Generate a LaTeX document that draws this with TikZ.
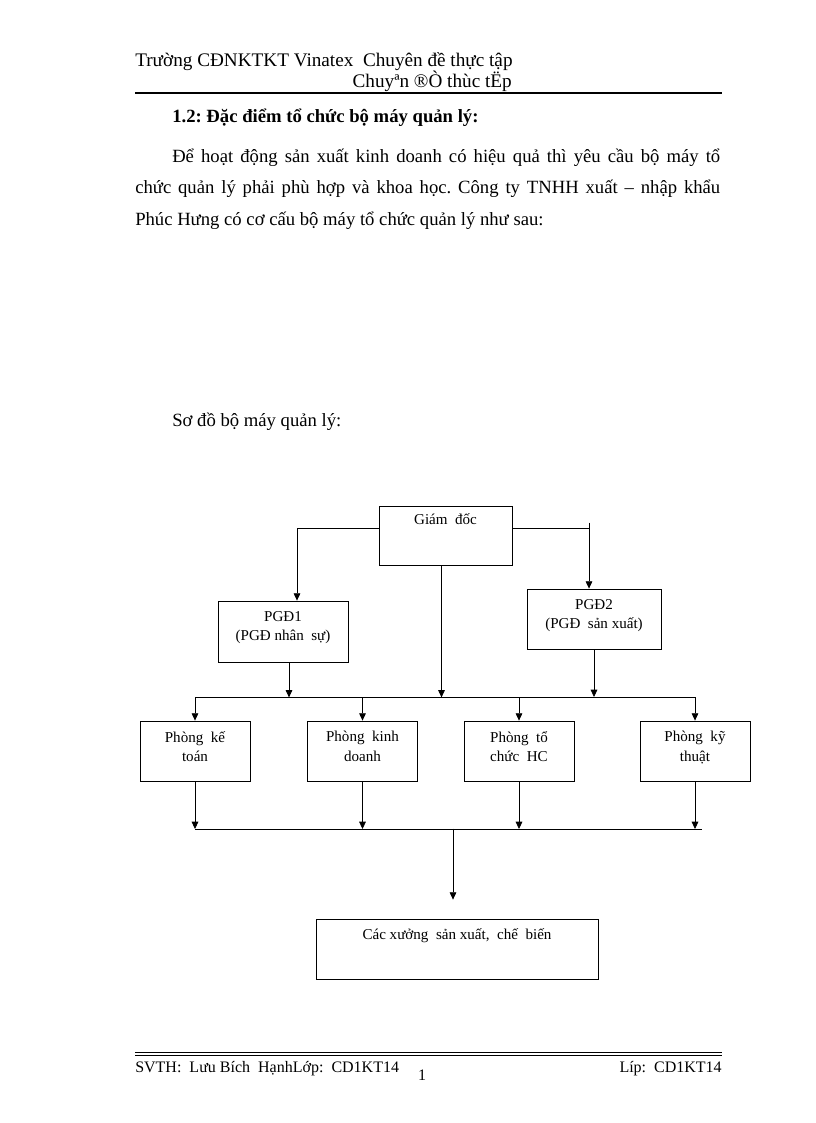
\documentclass[tikz,border=0pt]{standalone}
\usepackage{fontspec}
\setmainfont{Liberation Serif}
\usepackage{tikz}
\usetikzlibrary{arrows.meta,shapes}
\usetikzlibrary{calc}
\frenchspacing
\tikzstyle{box}=[draw,rectangle,inner sep=0pt,line width=0.6pt]
\tikzstyle{deptbox}=[box,minimum width=82.5pt,minimum height=45pt]
\tikzstyle{boxlabel}=[anchor=north,yshift=-2.25pt,inner sep=0pt,align=center,font=\fontsize{11.3}{14.6}\selectfont,execute at begin node={\rule{0pt}{12pt}}]
\tikzstyle{twolabel}=[boxlabel,yshift=-5.6pt]
\tikzstyle{link} = [draw,line width=0.6pt]
\tikzstyle{arrowedge} = [draw,line width=0.6pt,-{Triangle[length=5.5pt,width=5pt]}]
\tikzstyle{pagetext}=[inner sep=0pt,anchor=base west,font=\fontsize{14}{17}\selectfont]
\tikzstyle{foottext}=[inner sep=0pt,anchor=base west,font=\fontsize{12}{14}\selectfont]

\begin{document}
\begin{tikzpicture}[x=0.75pt,y=-0.75pt]
 \useasboundingbox (0,0) rectangle (816,1123);

 % header and page text
 \node[pagetext,font=\fontsize{14.4}{17}\selectfont] (head1) at (135,67) {Trường CĐNKTKT Vinatex\ \ Chuyên đề thực tập};
 \node[pagetext,font=\fontsize{14.4}{17}\selectfont,anchor=base east] (head2) at (512,88) {Chuyªn ®Ò thùc tËp};
 \draw[line width=1.5pt] (135,93) -- (722,93);
 \node[pagetext,font=\fontsize{14}{17}\selectfont\bfseries] (title) at (172,123) {1.2: Đặc điểm tổ chức bộ máy quản lý:};
 \node[pagetext] (par1) at (172,163) {\makebox[411pt][s]{Để hoạt động sản xuất kinh doanh có hiệu quả thì yêu cầu bộ máy tổ}};
 \node[pagetext] (par2) at (135,194) {\makebox[438.75pt][s]{chức quản lý phải phù hợp và khoa học. Công ty TNHH xuất -- nhập khẩu}};
 \node[pagetext] (par3) at (135,225) {Phúc Hưng có cơ cấu bộ máy tổ chức quản lý như sau:};
 \node[pagetext] (sodo) at (172,426) {Sơ đồ bộ máy quản lý:};

 % boxes
 \node[box,minimum width=99.75pt,minimum height=44.25pt,label={[boxlabel,name=gdtxt]north:{Giám\ \ đốc}}] (gd) at (445.5,535.5) {};
 \node[box,minimum width=97.5pt,minimum height=45.75pt,label={[twolabel,name=pgd1txt]north:{PGĐ1\\(PGĐ nhân\ \ sự)}}] (pgd1) at (283,631.5) {};
 \node[box,minimum width=100.5pt,minimum height=45pt,label={[twolabel,name=pgd2txt]north:{PGĐ2\\(PGĐ\ \ sản xuất)}}] (pgd2) at (594,619) {};
 \foreach \pos/\name/\first/\second in {{(195,751)/kt/Phòng\ \ kế/toán}, {(362.5,751)/kd/Phòng\ \ kinh/doanh}, {(519,751)/hc/Phòng\ \ tổ/chức\ \ HC}, {(695,751)/kyt/Phòng\ \ kỹ/thuật}}
   \node[deptbox,label={[twolabel,name=\name txt]north:{\first\\\second}}] (\name) at \pos {};
 \node[box,minimum width=211.5pt,minimum height=45pt,label={[boxlabel,yshift=-1.5pt,name=xuongtxt]north:{Các xưởng\ \ sản xuất,\ \ chế\ \ biến}}] (xuong) at (457,949) {};

 % connectors
 \coordinate (busA) at (0,697);
 \coordinate (busB) at (0,829);
 \draw[arrowedge] ($(gd.north west)+(0,23)$) -| ($(pgd1.north)+(14,0)$);
 \draw[link] ($(gd.north east)+(0,23)$) -- ++(77,0);
 \draw[arrowedge] ($(pgd2.north)+(-5,-66)$) -- ($(pgd2.north)+(-5,0)$);
 \draw[arrowedge] (gd.south) ++(-4,0) -- ++(0,132);
 \draw[arrowedge] (pgd1.south) ++(6,0) -- ++(0,35);
 \draw[arrowedge] (pgd2.south) -- (pgd2.south |- busA);
 \draw[link] (kt.north |- busA) -- (kyt.north |- busA);
 \draw[link] (kt.south |- busB) -- ($(kyt.south |- busB)+(7,0)$);
 \foreach \name in {kt,kd,hc,kyt} {
   \draw[arrowedge] (\name.north |- busA) -- (\name.north);
   \draw[arrowedge] (\name.south) -- (\name.south |- busB);
 }
 \draw[arrowedge] ($(xuong.north)+(-4,-90)$) -- ($(xuong.north)+(-4,-19)$);

 % footer
 \draw[line width=0.75pt] (135,1052.5) -- (722,1052.5);
 \draw[line width=0.75pt] (135,1055.5) -- (722,1055.5);
 \node[foottext] (svth) at (135,1072) {SVTH:\ \ Lưu Bích\ \ HạnhLớp:\ \ CD1KT14};
 \node[foottext,anchor=base] (pageno) at (422,1080) {1};
 \node[foottext,anchor=base east] (lop) at (722,1072) {Líp:\ \ CD1KT14};
\end{tikzpicture}
\end{document}
